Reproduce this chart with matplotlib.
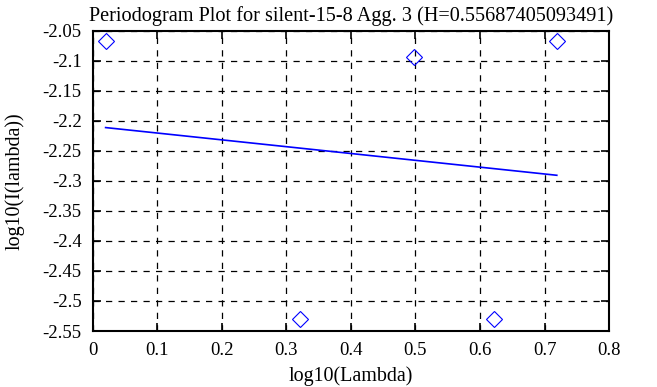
import matplotlib
matplotlib.use("Agg")
import matplotlib.pyplot as plt

# periodogram points (log10 lambda, log10 I(lambda))
log_lambda = [0.020, 0.321, 0.497, 0.622, 0.719]
log_I = [-2.067, -2.530, -2.093, -2.530, -2.067]

# least squares fit line endpoints
fit_x = [0.020, 0.719]
fit_y = [-2.2110, -2.2905]

xticks = [0, 0.1, 0.2, 0.3, 0.4, 0.5, 0.6, 0.7, 0.8]
yticks = [-2.05, -2.1, -2.15, -2.2, -2.25, -2.3, -2.35, -2.4, -2.45, -2.5, -2.55]

plt.rcParams['font.family'] = ['Liberation Serif', 'DejaVu Serif']
plt.rcParams['font.size'] = 12

fig = plt.figure(figsize=(6.57, 3.87), dpi=100)
ax = fig.add_axes([0.1411, 0.1447, 0.786, 0.7753])

ax.plot(fit_x, fit_y, color='blue', lw=1.2)
ax.plot(log_lambda, log_I, linestyle='none', marker='D', ms=8,
        mfc='none', mec='blue', mew=0.8)

ax.set_xlim(0, 0.8)
ax.set_ylim(-2.55, -2.05)
ax.set_xticks(xticks)
ax.set_xticklabels(['0', '0.1', '0.2', '0.3', '0.4', '0.5', '0.6', '0.7', '0.8'])
ax.set_yticks(yticks)
ax.set_yticklabels(['-2.05', '-2.1', '-2.15', '-2.2', '-2.25', '-2.3', '-2.35',
                    '-2.4', '-2.45', '-2.5', '-2.55'])
ax.tick_params(direction='in', length=6, width=1.2, top=True, right=True,
               pad=8, labelsize=13.5)
ax.grid(True, color='black', linestyle=(0, (5, 5)), linewidth=0.9)
for s in ax.spines.values():
    s.set_linewidth(1.5)

ax.set_title('Periodogram Plot for silent-15-8 Agg. 3 (H=0.55687405093491)',
             fontsize=14.6, pad=7)
ax.set_xlabel('log10(Lambda)', fontsize=14.4, labelpad=5)
ax.set_ylabel('log10(I(lambda))', fontsize=14.4, labelpad=13)

fig.savefig('out.png', dpi=100)
